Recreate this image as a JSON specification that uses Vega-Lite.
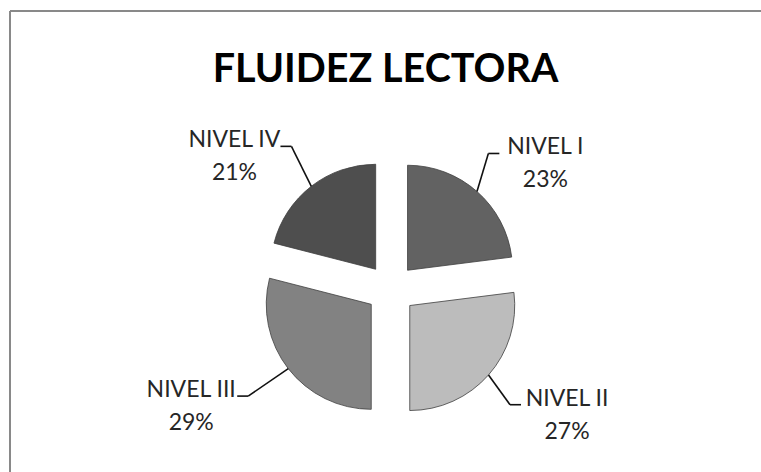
{
  "$schema": "https://vega.github.io/schema/vega-lite/v6.json",
  "usermeta": {"embedOptions": {"actions": false}},
  "width": 751,
  "height": 461,
  "autosize": "none",
  "padding": {"left": 10, "top": 11, "right": 0, "bottom": 0},
  "background": "white",
  "view": {"stroke": "#898989", "strokeWidth": 2, "strokeDash": [751, 1212, 461, 0]},
  "params": [
    {"name": "cx", "expr": "width/2 + 5.5"},
    {"name": "cy", "expr": "height/2 + 47.5"}
  ],
  "title": {
    "text": "FLUIDEZ LECTORA",
    "font": "Lato",
    "fontSize": 39.5,
    "fontWeight": "bold",
    "color": "#000000",
    "anchor": "middle",
    "frame": "group",
    "orient": "top",
    "baseline": "alphabetic",
    "offset": -110
  },
  "data": {
    "values": [
      {"nivel": "NIVEL I", "valor": 23, "etiqueta": "NIVEL I\n23%"},
      {"nivel": "NIVEL II", "valor": 27, "etiqueta": "NIVEL II\n27%"},
      {"nivel": "NIVEL III", "valor": 29, "etiqueta": "NIVEL III\n29%"},
      {"nivel": "NIVEL IV", "valor": 21, "etiqueta": "NIVEL IV\n21%"}
    ]
  },
  "transform": [
    {"stack": "valor", "groupby": [], "sort": [{"field": "nivel", "order": "ascending"}], "as": ["v0", "v1"]}
  ],
  "layer": [
    {
      "mark": {
        "type": "arc",
        "outerRadius": 105,
        "stroke": "#3f3f3f",
        "strokeWidth": 0.8
      },
      "encoding": {
        "x": {"value": {"expr": "cx + 25*sin(PI*(datum.v0+datum.v1)/100)"}},
        "y": {"value": {"expr": "cy - 25*cos(PI*(datum.v0+datum.v1)/100)"}},
        "theta": {"field": "v0", "type": "quantitative", "scale": {"domain": [0, 100]}},
        "theta2": {"field": "v1"},
        "color": {
          "field": "nivel",
          "type": "nominal",
          "scale": {"domain": ["NIVEL I", "NIVEL II", "NIVEL III", "NIVEL IV"], "range": ["#626262", "#bcbcbc", "#828282", "#4e4e4e"]},
          "legend": null
        }
      }
    },
    {
      "mark": {"type": "rule", "stroke": "#111111", "strokeWidth": 1.6},
      "encoding": {
        "x": {"value": {"expr": "cx + 130*sin(PI*(datum.v0+datum.v1)/100)"}},
        "y": {"value": {"expr": "cy - 130*cos(PI*(datum.v0+datum.v1)/100)"}},
        "x2": {"value": {"expr": "cx - 7 + 244*sin(PI*(datum.v0+datum.v1)/100) - (sin(PI*(datum.v0+datum.v1)/100) > 0 ? 57 : -57)"}},
        "y2": {"value": {"expr": "cy - 2 - 178*cos(PI*(datum.v0+datum.v1)/100)"}}
      }
    },
    {
      "mark": {"type": "rule", "stroke": "#111111", "strokeWidth": 1.6},
      "encoding": {
        "x": {"value": {"expr": "cx - 7 + 244*sin(PI*(datum.v0+datum.v1)/100) - (sin(PI*(datum.v0+datum.v1)/100) > 0 ? 57 : -57)"}},
        "y": {"value": {"expr": "cy - 2 - 178*cos(PI*(datum.v0+datum.v1)/100)"}},
        "x2": {"value": {"expr": "cx - 7 + 244*sin(PI*(datum.v0+datum.v1)/100) - (sin(PI*(datum.v0+datum.v1)/100) > 0 ? 46 : -46)"}},
        "y2": {"value": {"expr": "cy - 2 - 178*cos(PI*(datum.v0+datum.v1)/100)"}}
      }
    },
    {
      "mark": {
        "type": "text",
        "font": "Lato",
        "fontSize": 23,
        "color": "#262626",
        "align": "center",
        "baseline": "middle",
        "lineBreak": "\n",
        "lineHeight": 33
      },
      "encoding": {
        "x": {"value": {"expr": "cx - 7 + 244*sin(PI*(datum.v0+datum.v1)/100)"}},
        "y": {"value": {"expr": "cy - 8 - 178*cos(PI*(datum.v0+datum.v1)/100)"}},
        "text": {"field": "etiqueta", "type": "nominal"}
      }
    }
  ]
}
